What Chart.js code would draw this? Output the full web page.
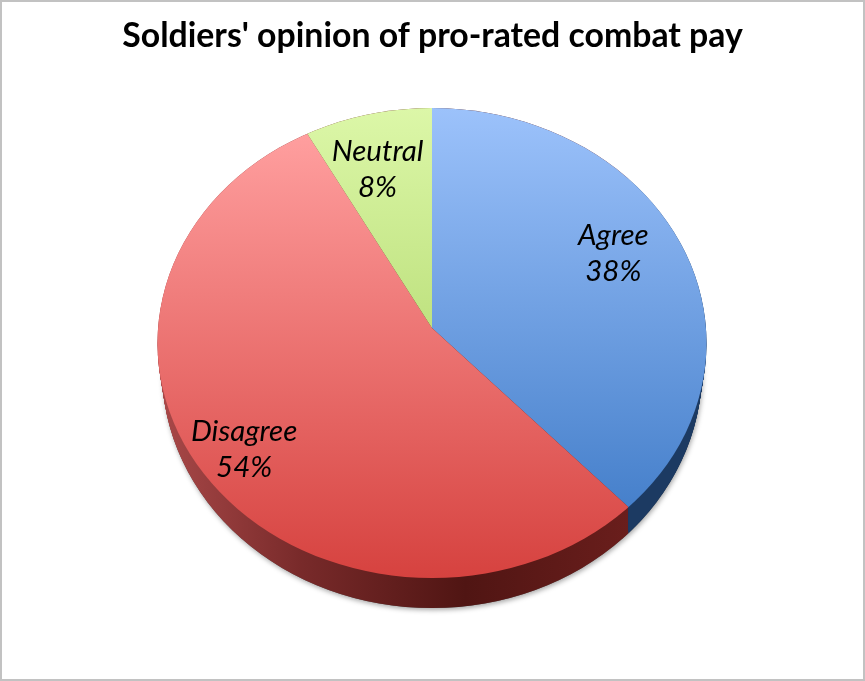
<!DOCTYPE html>
<html>
<head>
  <title>Soldiers' opinion of pro-rated combat pay</title>
  <script src="https://cdn.jsdelivr.net/npm/chart.js"></script>
  <style>
    body {
      margin: 0;
      background: #fff;
    }

    canvas {
      display: block;
      outline: 2px solid #c2c2c2;
      outline-offset: -2px;
    }
  </style>
</head>
<body>
  <canvas id="chart" width="865" height="681"></canvas>

  <script>
    const categories = ['Agree', 'Disagree', 'Neutral'];
    const percents = [38, 54, 8];

    const topColors = ['#9cc2fb', '#ff9f9f', '#dcf7a8'];
    const bottomColors = ['#4680cb', '#d6423f', '#bfe280'];
    const topY = [108, 133, 108];
    const bottomY = [507, 578, 328];
    const labelFactors = [0.73, 0.855, 0.71];
    const labelNudgeX = [-5, 2, -6];
    const labelNudgeY = [-11, 3, 3];

    // the tilted disc: wedges meet at the apex, the rim is an ellipse a bit lower
    const apex = { x: 432, y: 328 };
    const rim = { x: 432, y: 343, rx: 274.5, ry: 235 };
    const base = { x: 432, y: 370, rx: 270, ry: 238 };
    const wallDepth = 30;
    const overshoot = 1.15;

    function unitRadius(chart) {
      const area = chart.chartArea;
      return Math.min(area.width, area.height) / 2 / overshoot;
    }

    // vertical gradient given in page pixels, converted to the chart's own space
    function sliceFill(context) {
      const chart = context.chart;
      const i = context.dataIndex;
      const area = chart.chartArea;
      if (!area) return bottomColors[i];
      const u = unitRadius(chart);
      const cy = (area.top + area.bottom) / 2;
      const toChart = y => cy + (y - apex.y) * u / rim.ry;
      const g = chart.ctx.createLinearGradient(0, toChart(topY[i]), 0, toChart(bottomY[i]));
      g.addColorStop(0, topColors[i]);
      g.addColorStop(1, bottomColors[i]);
      return g;
    }

    // x where a ray from the apex leaves the rim ellipse
    function rimX(angle) {
      const dx = Math.cos(angle);
      const dy = Math.sin(angle);
      const oy = (apex.y - rim.y) / rim.ry;
      const b = dy * oy;
      const t = -b + Math.sqrt(b * b - (oy * oy - 1));
      return apex.x + rim.rx * dx * t;
    }

    function drawWall(ctx, fill, clipLeft, clipRight) {
      ctx.save();
      ctx.beginPath();
      ctx.rect(clipLeft, 0, clipRight - clipLeft, 681);
      ctx.clip();
      ctx.fillStyle = fill;
      for (let s = 0; s <= wallDepth; s++) {
        const k = s / wallDepth;
        ctx.beginPath();
        ctx.ellipse(
          rim.x,
          rim.y + (base.y - rim.y) * k,
          rim.rx + (base.rx - rim.rx) * k,
          rim.ry + (base.ry - rim.ry) * k,
          0, 0, Math.PI * 2
        );
        ctx.fill();
      }
      ctx.restore();
    }

    const tiltedPie = {
      id: 'tiltedPie',
      beforeDatasetsDraw(chart) {
        const ctx = chart.ctx;
        const meta = chart.getDatasetMeta(0);
        const el = meta.data[0];
        const splitX = rimX(el.endAngle);
        const u = unitRadius(chart);

        // soft shadow under the wall
        ctx.save();
        ctx.shadowColor = 'rgba(0,0,0,0.35)';
        ctx.shadowBlur = 5;
        ctx.shadowOffsetX = 1;
        ctx.shadowOffsetY = 2;
        ctx.fillStyle = '#555';
        ctx.beginPath();
        ctx.ellipse(base.x, base.y, base.rx, base.ry, 0, 0, Math.PI * 2);
        ctx.fill();
        ctx.restore();

        const redWall = ctx.createLinearGradient(base.x - base.rx, 0, splitX, 0);
        redWall.addColorStop(0, '#a84848');
        redWall.addColorStop(0.3, '#782a2a');
        redWall.addColorStop(0.65, '#501513');
        redWall.addColorStop(1, '#6a1e1c');
        drawWall(ctx, redWall, 0, splitX);
        drawWall(ctx, '#1c3a62', splitX, 865);

        // top face
        ctx.save();
        ctx.beginPath();
        ctx.ellipse(rim.x, rim.y, rim.rx, rim.ry, 0, 0, Math.PI * 2);
        ctx.clip();
        ctx.translate(apex.x, apex.y);
        ctx.scale(rim.rx / u, rim.ry / u);
        ctx.translate(-el.x, -el.y);
        meta.controller.draw();
        ctx.restore();
        return false;
      },
      // datasets hook returns false above, so the labels go in afterDraw
      afterDraw(chart) {
        const ctx = chart.ctx;
        const meta = chart.getDatasetMeta(0);
        ctx.save();
        ctx.fillStyle = '#000';
        ctx.textAlign = 'center';
        ctx.textBaseline = 'middle';
        ctx.font = 'italic 29.5px Lato';
        meta.data.forEach((el, i) => {
          const mid = (el.startAngle + el.endAngle) / 2;
          const x = apex.x + rim.rx * labelFactors[i] * Math.cos(mid) + labelNudgeX[i];
          const y = apex.y + rim.ry * labelFactors[i] * Math.sin(mid) + labelNudgeY[i];
          ctx.fillText(categories[i], x, y - 18);
          ctx.fillText(percents[i] + '%', x, y + 18);
        });
        ctx.restore();
      }
    };

    new Chart(document.getElementById('chart'), {
      type: 'pie',
      data: {
        labels: categories,
        datasets: [{
          data: percents,
          backgroundColor: sliceFill,
          borderWidth: 0,
          hoverOffset: 0
        }]
      },
      options: {
        responsive: false,
        animation: false,
        plugins: {
          legend: { display: false },
          tooltip: { enabled: false },
          title: {
            display: true,
            text: "Soldiers' opinion of pro-rated combat pay",
            color: '#000',
            font: { family: 'Lato', size: 33.8, weight: 'bold' },
            padding: { top: 16, bottom: 10 }
          }
        }
      },
      plugins: [tiltedPie]
    });
  </script>
</body>
</html>
